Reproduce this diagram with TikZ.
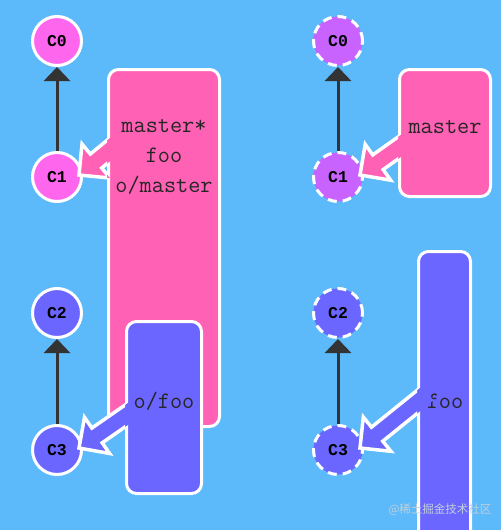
\documentclass[tikz,border=0pt]{standalone}
\usepackage{fontspec}
\newfontfamily\commitfont{Liberation Mono}
\newfontfamily\cjk{Noto Sans CJK SC}
\usepackage{tikz}
\usetikzlibrary{
	arrows.meta,
	positioning,
	calc
}

\definecolor{skyback}{HTML}{5CB9FA}
\definecolor{branchpink}{HTML}{FF61B4}
\definecolor{commitpink}{HTML}{FF66EE}
\definecolor{commitviolet}{HTML}{C863FF}
\definecolor{fooblue}{HTML}{6B66FF}
\definecolor{edgegray}{HTML}{333333}

% fat pointer from a branch box to a commit
% #1 box, #2 drop below the box top, #3 commit, #4 colour
\newcommand{\branchptr}[4]{%
  \coordinate (bp-s) at ($(#1.north west)+(0,#2)$);
  \coordinate (bp-t) at ($(#3.east)+(-4,-2)$);
  \coordinate (bp-s0) at ($(bp-s)!-14pt!(bp-t)$);
  \coordinate (bp-b) at ($(bp-t)!22pt!(bp-s)$);
  \fill[#4] ($(bp-s0)!9pt!90:(bp-t)$) -- ($(bp-b)!9pt!90:(bp-t)$)
    -- ($(bp-b)!22pt!90:(bp-t)$) -- (bp-t) -- ($(bp-b)!22pt!-90:(bp-t)$)
    -- ($(bp-b)!9pt!-90:(bp-t)$) -- ($(bp-s0)!9pt!-90:(bp-t)$) -- cycle;
  \begin{scope}
    \clip ($(#1.north west)+(-400,-400)$) rectangle ($(#1.south west)+(0,400)$);
    \draw[white, line width=3.5pt, line join=miter]
      ($(bp-s0)!9pt!90:(bp-t)$) -- ($(bp-b)!9pt!90:(bp-t)$)
      -- ($(bp-b)!22pt!90:(bp-t)$) -- (bp-t) -- ($(bp-b)!22pt!-90:(bp-t)$)
      -- ($(bp-b)!9pt!-90:(bp-t)$) -- ($(bp-s0)!9pt!-90:(bp-t)$);
  \end{scope}
}

\begin{document}
\begin{tikzpicture}[
    x=1pt, y=-1pt,
    commit/.style={circle, draw=white, line width=3pt, minimum size=49pt, inner sep=0pt, font=\commitfont\bfseries\fontsize{16.5}{16.5}\selectfont},
    ghost/.style={commit, dash pattern=on 9pt off 6pt},
    branchbox/.style={rectangle, rounded corners=10pt, draw=white, line width=3pt, inner sep=0pt},
    branchtxt/.style={align=center, text=black!85, inner sep=0pt, font=\ttfamily\fontsize{23.6}{30}\selectfont},
    parent/.style={draw=edgegray, line width=3pt, -{Triangle[length=14pt, width=26pt]}}
]

\clip (0,0) rectangle (501,530);
\fill[skyback] (0,0) rectangle (501,530);

% Left: commits
\node[commit, fill=commitpink] (lc0) at (57,41) {C0};
\node[commit, fill=commitpink] (lc1) at (57,177) {C1};
\node[commit, fill=fooblue] (lc2) at (57,313) {C2};
\node[commit, fill=fooblue] (lc3) at (57,450) {C3};

\draw[parent] (lc1) -- (lc0);
\draw[parent] (lc3) -- (lc2);

% Right: commits
\node[ghost, fill=commitviolet] (rc0) at (338,41) {C0};
\node[ghost, fill=commitviolet] (rc1) at (338,177) {C1};
\node[ghost, fill=fooblue] (rc2) at (338,313) {C2};
\node[ghost, fill=fooblue] (rc3) at (338,450) {C3};

\draw[parent] (rc1) -- (rc0);
\draw[parent] (rc3) -- (rc2);

% Left: branches
\node[branchbox, fill=branchpink, minimum width=111pt, minimum height=357pt] (lmaster) at (164,248) {};
\node[branchtxt] (lmastertxt) at (164,157) {master*\\foo\\o/master};
\branchptr{lmaster}{84}{lc1}{branchpink}

\node[branchbox, fill=fooblue, minimum width=75pt, minimum height=172pt] (lofoo) at (164,407.5) {};
\node[branchtxt] (lofootxt) at (164,401) {o/foo};
\branchptr{lofoo}{96}{lc3}{fooblue}

% Right: branches
\node[branchbox, fill=branchpink, minimum width=91pt, minimum height=127pt] (rmaster) at (445,133) {};
\node[branchtxt] (rmastertxt) at (445,127) {master};
\branchptr{rmaster}{80}{rc1}{branchpink}

\node[branchbox, fill=fooblue, minimum width=52pt, minimum height=347pt] (rfoo) at (444.5,425) {};
\node[branchtxt] (rfootxt) at (445,401) {foo};
\branchptr{rfoo}{152}{rc3}{fooblue}

\node[font=\cjk\fontsize{11.5}{11.5}\selectfont, text=white!80!skyback!70!gray, inner sep=0pt] (mark) at (440,510) {@稀土掘金技术社区};

\end{tikzpicture}
\end{document}
